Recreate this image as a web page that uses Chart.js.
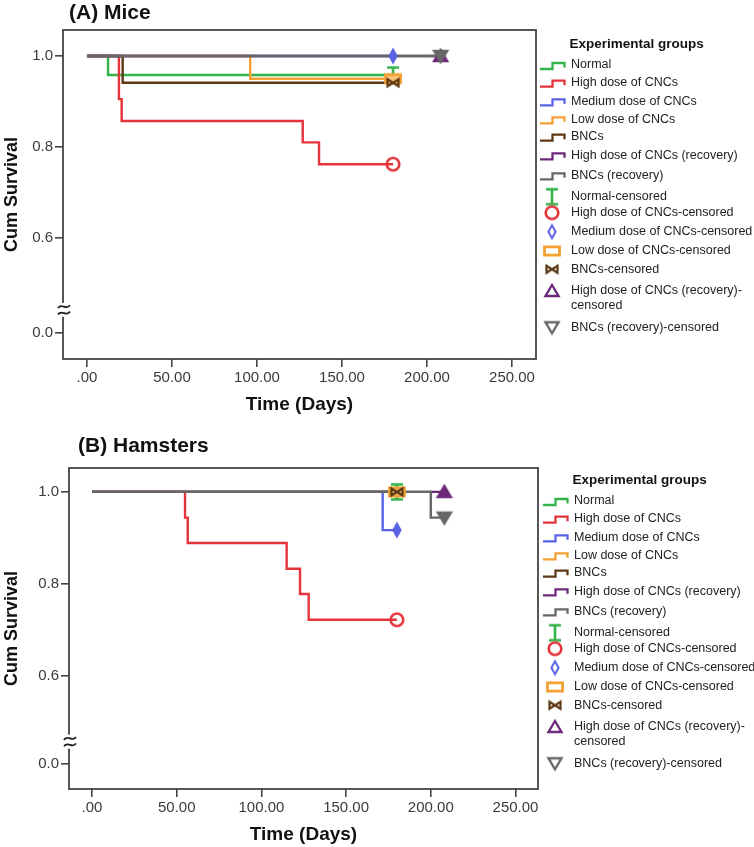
<!DOCTYPE html>
<html><head><meta charset="utf-8">
<script src="https://cdn.jsdelivr.net/npm/chart.js@4/dist/chart.umd.min.js"></script>
<style>
html,body{margin:0;padding:0;background:#fff;}
#cA{position:absolute;left:0;top:0;}
#cB{position:absolute;left:0;top:420px;}
</style></head><body>
<canvas id="cA" width="754" height="420"></canvas>
<canvas id="cB" width="754" height="427"></canvas>
<script>
// ---------- DATA ----------
const groups = ['Normal','High dose of CNCs','Medium dose of CNCs','Low dose of CNCs','BNCs','High dose of CNCs (recovery)','BNCs (recovery)'];
const censorLabels = [['Normal-censored'],['High dose of CNCs-censored'],['Medium dose of CNCs-censored'],['Low dose of CNCs-censored'],['BNCs-censored'],['High dose of CNCs (recovery)-','censored'],['BNCs (recovery)-censored']];
const groupColors = ['#34b34a','#e5333a','#5a62e6','#f2a132','#5c3815','#6e2a7a','#676767'];
const censorShapes = ['ibar','circle','diamond','rect','bowtie','triUp','triDown'];

// (A) Mice: step times (days) and cumulative survival after each step
const miceTimes = [[0,12.4,180],[0,18.8,20.4,126.9,136.5,180],[0,180],[0,96,180],[0,21,180],[0,208],[0,208]];
const miceSurvival = [[1,0.958,0.958],[1,0.905,0.857,0.810,0.762,0.762],[1,1],[1,0.95,0.95],[1,0.941,0.941],[1,1],[1,1]];
// (B) Hamsters
const hamsterTimes = [[0,180],[0,54.9,56.5,114.9,122.8,127.9,180],[0,171.6,180],[0,180],[0,180],[0,208],[0,200,208]];
const hamsterSurvival = [[1,1],[1,0.944,0.889,0.833,0.778,0.722,0.722],[1,0.917,0.917],[1,1],[1,1],[1,1],[1,0.944,0.944]];

const xTicks = [0,50,100,150,200,250];
const xTickLabels = ['.00','50.00','100.00','150.00','200.00','250.00'];
const yTicks = [0.6,0.8,1.0];
const yTickLabels = ['0.0','0.6','0.8','1.0'];

// ---------- STYLE ----------
const FAM = '"Liberation Sans", Arial, Helvetica, sans-serif';
Chart.defaults.font.family = FAM;

function makeMarker(shape, color, solid) {
  const c = document.createElement('canvas');
  c.width = 20; c.height = 20;
  const g = c.getContext('2d');
  g.translate(10, 10);
  g.strokeStyle = color; g.fillStyle = color; g.lineWidth = 2.2; g.lineJoin = 'miter';
  g.beginPath();
  if (shape === 'ibar') {
    g.moveTo(-6,-7.5); g.lineTo(6,-7.5);
    g.moveTo(0,-7.5); g.lineTo(0,7.5);
    g.moveTo(-6,7.5); g.lineTo(6,7.5);
    g.lineWidth = 2.6; g.stroke();
  } else if (shape === 'circle') {
    g.arc(0,0,6.3,0,Math.PI*2); g.lineWidth = 2.6; g.stroke();
  } else if (shape === 'diamond') {
    g.moveTo(0,-6.5); g.lineTo(3.6,0); g.lineTo(0,6.5); g.lineTo(-3.6,0); g.closePath();
    if (solid) g.fill(); g.lineWidth=2; g.stroke();
  } else if (shape === 'rect') {
    g.rect(-7.5,-4.2,15,8.4);
    if (solid) { g.fillStyle = '#f7c27a'; g.fill(); }
    g.lineWidth = 2.8; g.stroke();
  } else if (shape === 'bowtie') {
    g.moveTo(-5.5,-3.5); g.lineTo(5.5,3.5); g.lineTo(5.5,-3.5); g.lineTo(-5.5,3.5); g.closePath(); g.lineWidth=2.2; g.stroke();
  } else if (shape === 'triUp') {
    g.moveTo(0,-6); g.lineTo(6.5,5); g.lineTo(-6.5,5); g.closePath();
    if (solid) g.fill(); g.lineWidth=2.4; g.stroke();
  } else if (shape === 'triDown') {
    g.moveTo(0,6); g.lineTo(6.5,-5); g.lineTo(-6.5,-5); g.closePath();
    if (solid) g.fill(); g.lineWidth=2.4; g.stroke();
  }
  return c;
}
const legendMarkers = censorShapes.map((s,i) => makeMarker(s, groupColors[i], false));
const plotMarkers = censorShapes.map((s,i) => makeMarker(s, groupColors[i], true));

// legend row offsets from chart-area top
const legendTitleOff = 14;
const lineRowOff = [35, 52.7, 71.3, 89.3, 106.7, 125.3, 145.3];
const censorRowOff = [166.7, 182.7, 201.7, 221, 239.3, 261, 297.3];

const decoPlugin = {
  id: 'deco',
  afterDraw(chart, args, o) {
    const ctx = chart.ctx, a = chart.chartArea;
    ctx.save();
    // frame
    ctx.strokeStyle = '#444'; ctx.lineWidth = 1.8;
    ctx.strokeRect(a.left, a.top, a.right - a.left, a.bottom - a.top);
    // axis break mark
    const yb = chart.scales.y.getPixelForValue(o.breakAt);
    const cx = a.left + 1;
    ctx.fillStyle = '#fff'; ctx.fillRect(cx - 7, yb - 7, 14, 14);
    ctx.strokeStyle = '#222'; ctx.lineWidth = 1.8;
    [-3.2, 3.2].forEach(dy => {
      ctx.beginPath();
      ctx.moveTo(cx - 6, yb + dy + 1.5);
      ctx.bezierCurveTo(cx - 2.5, yb + dy - 4.5, cx + 2.5, yb + dy + 4.5, cx + 6, yb + dy - 1.5);
      ctx.stroke();
    });
    // panel title
    ctx.fillStyle = '#111'; ctx.textAlign = 'left'; ctx.textBaseline = 'middle';
    ctx.font = 'bold 21px ' + FAM;
    ctx.fillText(o.title, o.titleX, o.titleY);
    // legend
    const top = a.top + o.legendShift;
    const lx = a.right + o.legendDx;
    ctx.font = 'bold 13.5px ' + FAM;
    ctx.fillText('Experimental groups', lx + 33.5, top + legendTitleOff);
    ctx.font = '12.5px ' + FAM; ctx.fillStyle = '#222';
    groups.forEach((g, i) => {
      const y = top + lineRowOff[i];
      ctx.strokeStyle = groupColors[i]; ctx.lineWidth = 2.3;
      ctx.beginPath();
      ctx.moveTo(lx + 4, y + 4); ctx.lineTo(lx + 16.5, y + 4); ctx.lineTo(lx + 16.5, y - 2);
      ctx.lineTo(lx + 28.5, y - 2); ctx.lineTo(lx + 28.5, y + 2.5);
      ctx.stroke();
      ctx.fillText(g, lx + 35, y);
    });
    censorLabels.forEach((lines, i) => {
      const y = top + censorRowOff[i];
      const m = legendMarkers[i];
      ctx.drawImage(m, lx + 16 - m.width / 2, y - m.height / 2);
      lines.forEach((t, k) => ctx.fillText(t, lx + 35, y + k * 15));
    });
    ctx.restore();
  }
};

function makeChart(id, times, surv, cfg) {
  const datasets = [];
  groups.forEach((g, i) => {
    datasets.push({
      label: g,
      data: times[i].map((t, k) => ({x: t, y: surv[i][k]})),
      showLine: true, stepped: true, pointRadius: 0,
      borderColor: groupColors[i], borderWidth: 2.4, fill: false,
      order: 50 - i
    });
  });
  groups.forEach((g, i) => {
    const n = times[i].length - 1;
    datasets.push({
      label: censorLabels[i].join(' '),
      data: [{x: times[i][n], y: surv[i][n]}],
      showLine: false, pointStyle: plotMarkers[i], pointRadius: 10,
      borderColor: groupColors[i], backgroundColor: groupColors[i],
      order: 20 - i
    });
  });
  const tickFont = {size: 15, family: FAM};
  return new Chart(document.getElementById(id), {
    type: 'scatter',
    data: {datasets},
    options: {
      responsive: false, animation: false, events: [],
      layout: {padding: {left: 0, top: cfg.topPad, right: cfg.rightPad, bottom: 0}},
      plugins: {legend: {display: false}, tooltip: {enabled: false},
        deco: {title: cfg.title, titleX: cfg.titleX, titleY: cfg.titleY, breakAt: cfg.breakAt,
               legendShift: cfg.legendShift, legendDx: cfg.legendDx}},
      scales: {
        x: {
          type: 'linear', min: cfg.xMin, max: cfg.xMax,
          afterBuildTicks: s => { s.ticks = xTicks.map(v => ({value: v})); },
          ticks: {callback: (v, i) => xTickLabels[i], font: tickFont, color: '#3a3a3a', padding: 2, maxRotation: 0, autoSkip: false},
          grid: {drawOnChartArea: false, drawTicks: true, tickLength: 8, tickColor: '#444', lineWidth: 1.6},
          border: {display: false},
          title: {display: true, text: 'Time (Days)', color: '#111', font: {size: 19, weight: 'bold', family: FAM}, padding: {top: 0, bottom: cfg.xTitlePad}},
          afterFit: s => { s.height = cfg.bottomH; }
        },
        y: {
          type: 'linear', min: cfg.yMin, max: cfg.yMax,
          afterBuildTicks: s => { s.ticks = [cfg.zeroPos].concat(yTicks).map(v => ({value: v})); },
          ticks: {callback: (v, i) => yTickLabels[i], font: tickFont, color: '#3a3a3a', padding: 2, autoSkip: false},
          grid: {drawOnChartArea: false, drawTicks: true, tickLength: 8, tickColor: '#444', lineWidth: 1.6},
          border: {display: false},
          title: {display: true, text: 'Cum Survival', color: '#111', font: {size: 18, weight: 'bold', family: FAM}, padding: {top: 1, bottom: 0}},
          afterFit: s => { s.width = cfg.leftW; }
        }
      }
    },
    plugins: [decoPlugin]
  });
}

makeChart('cA', miceTimes, miceSurvival, {
  title: '(A) Mice', titleX: 69, titleY: 13,
  topPad: 30, rightPad: 218, leftW: 63, bottomH: 61, xTitlePad: 3.6,
  xMin: -14.1, xMax: 264.1, yMin: 0.334, yMax: 1.057, zeroPos: 0.391, breakAt: 0.442,
  legendShift: 0, legendDx: 0
});
makeChart('cB', hamsterTimes, hamsterSurvival, {
  title: '(B) Hamsters', titleX: 78, titleY: 26,
  topPad: 48, rightPad: 216, leftW: 69, bottomH: 58, xTitlePad: 0.6,
  xMin: -13.6, xMax: 263.3, yMin: 0.354, yMax: 1.052, zeroPos: 0.409, breakAt: 0.457,
  legendShift: -2, legendDx: 1
});
</script>
</body></html>
